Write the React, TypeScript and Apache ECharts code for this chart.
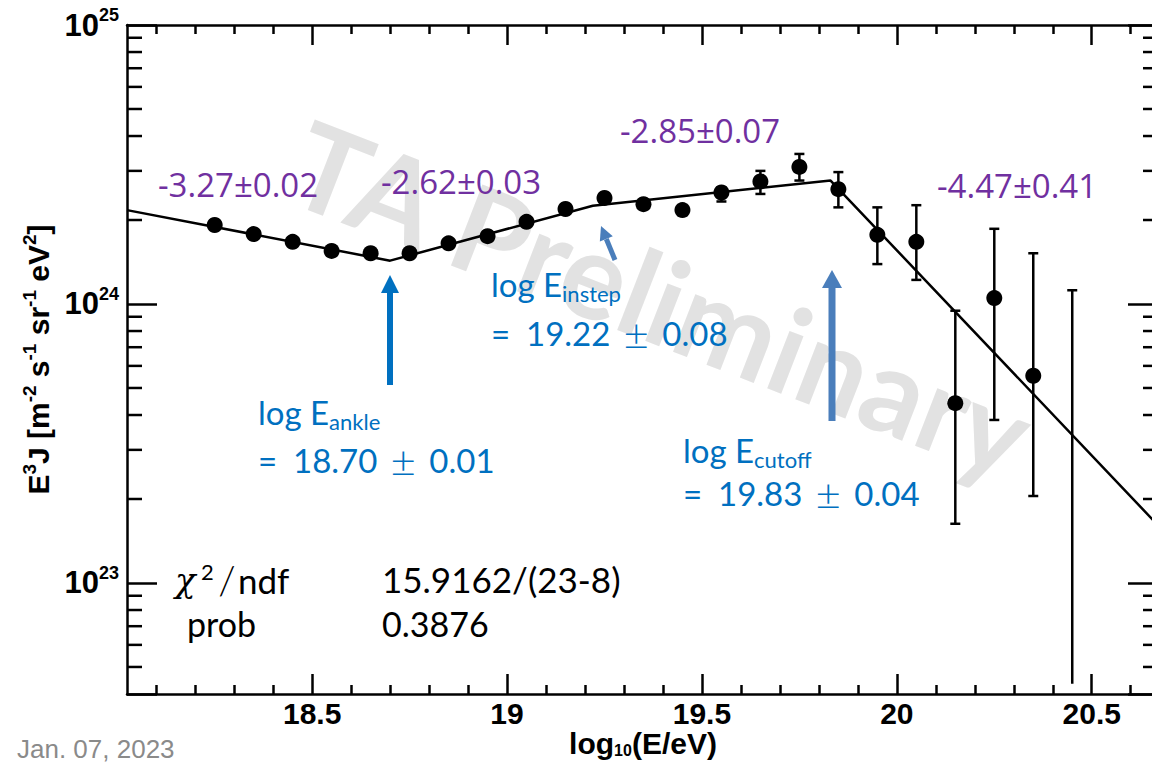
import React, { useEffect, useRef } from 'react';
import * as echarts from 'echarts';

const X_MIN = 18.025;
const X_MAX = 20.67;
const Y_MIN = 4e22;
const Y_MAX = 1e25;

// data bins (log10 E) and E^3 J values
const logE = [18.25, 18.35, 18.45, 18.55, 18.65, 18.75, 18.85, 18.95, 19.05, 19.15, 19.25, 19.35, 19.45, 19.55, 19.65, 19.75, 19.85, 19.95, 20.05, 20.15, 20.25, 20.35, 20.45];
const e3j = [1.92e24, 1.78e24, 1.67e24, 1.55e24, 1.52e24, 1.52e24, 1.65e24, 1.75e24, 1.97e24, 2.19e24, 2.40e24, 2.28e24, 2.17e24, 2.51e24, 2.75e24, 3.10e24, 2.58e24, 1.77e24, 1.67e24, 4.41e23, 1.05e24, 5.53e23, null];
const errLow = [1.89e24, 1.75e24, 1.64e24, 1.52e24, 1.49e24, 1.49e24, 1.62e24, 1.72e24, 1.93e24, 2.14e24, 2.34e24, 2.20e24, 2.08e24, 2.33e24, 2.48e24, 2.77e24, 2.22e24, 1.39e24, 1.22e24, 1.63e23, 3.84e23, 2.05e23, 4.35e22];
const errHigh = [1.95e24, 1.81e24, 1.70e24, 1.58e24, 1.55e24, 1.55e24, 1.68e24, 1.78e24, 2.01e24, 2.24e24, 2.46e24, 2.36e24, 2.26e24, 2.62e24, 3.00e24, 3.45e24, 2.97e24, 2.22e24, 2.26e24, 9.46e23, 1.86e24, 1.52e24, 1.12e24];
const lowerCap = [1, 1, 1, 1, 1, 1, 1, 1, 1, 1, 1, 1, 1, 1, 1, 1, 1, 1, 1, 1, 1, 1, 0];

// broken power-law fit vertices
const fitX = [18.025, 18.70, 19.22, 19.83, 20.67];
const fitY = [2.17e24, 1.43e24, 2.25e24, 2.77e24, 1.61e23];

// ticks
const xMajorTicks = [18.5, 19, 19.5, 20, 20.5];
const xMinorTicks = [18.1, 18.2, 18.3, 18.4, 18.6, 18.7, 18.8, 18.9, 19.1, 19.2, 19.3, 19.4, 19.6, 19.7, 19.8, 19.9, 20.1, 20.2, 20.3, 20.4, 20.6];
const yMinorTicks = [5e22, 6e22, 7e22, 8e22, 9e22, 2e23, 3e23, 4e23, 5e23, 6e23, 7e23, 8e23, 9e23, 2e24, 3e24, 4e24, 5e24, 6e24, 7e24, 8e24, 9e24];

// annotation texts
const slopeLabels = ['-3.27±0.02', '-2.62±0.03', '-2.85±0.07', '-4.47±0.41'];
const breakNames = ['ankle', 'instep', 'cutoff'];
const breakValues = ['18.70', '19.22', '19.83'];
const breakErrors = ['0.01', '0.08', '0.04'];
const fitStats = ['15.9162/(23-8)', '0.3876'];

const BLACK = '#000';
const PURPLE = '#7030A0';
const BLUE = '#0070C0';
const STEEL = '#4A7EBB';

function blueBlock(x: number, y1: number, y2: number, i: number) {
  return [
    {
      type: 'text', x, y: y1, z: 100,
      style: {
        text: `{m|log E}{u|${breakNames[i]}}`,
        verticalAlign: 'middle', align: 'left',
        rich: {
          m: { fontFamily: 'Lato', fontSize: 33, fill: BLUE, lineHeight: 40 },
          u: { fontFamily: 'Lato', fontSize: 22, fill: BLUE, lineHeight: 17, verticalAlign: 'bottom' },
        },
      },
    },
    {
      type: 'text', x, y: y2, z: 100,
      style: {
        text: `{e|=}{n|${breakValues[i]}}{p|±}{n|${breakErrors[i]}}`,
        verticalAlign: 'middle', align: 'left',
        rich: {
          e: { fontFamily: 'Lato', fontSize: 33, fill: BLUE, lineHeight: 44, width: 35 },
          n: { fontFamily: 'Lato', fontSize: 33, fill: BLUE, lineHeight: 44 },
          p: { fontFamily: 'Lato', fontSize: 44, fontWeight: 300, fill: BLUE, lineHeight: 44, width: 52, align: 'right' },
        },
      },
    },
  ];
}

function purple(x: number, y: number, i: number) {
  return {
    type: 'text', x, y, z: 100,
    style: { text: slopeLabels[i], fontFamily: 'Open Sans', fontSize: 33, fill: PURPLE, verticalAlign: 'middle', align: 'left' },
  };
}

function arrow(x1: number, y1: number, x2: number, y2: number, color: string, w: number, headLen: number, headHalf: number) {
  const dx = x2 - x1, dy = y2 - y1;
  const len = Math.sqrt(dx * dx + dy * dy);
  const ux = dx / len, uy = dy / len;
  const bx = x2 - ux * headLen, by = y2 - uy * headLen;
  const px = -uy * headHalf, py = ux * headHalf;
  return [
    { type: 'line', z: 100, shape: { x1, y1, x2: bx, y2: by }, style: { stroke: color, lineWidth: w } },
    { type: 'polygon', z: 100, shape: { points: [[x2, y2], [bx + px, by + py], [bx - px, by - py]] }, style: { fill: color } },
  ];
}

const axisLineStyle = { color: BLACK, width: 2.5 };
const tickStyle = { color: BLACK, width: 2.5 };

function buildOption() {
  const scatterData = logE.map((x, i) => (e3j[i] == null ? null : [x, e3j[i]])).filter((d) => d !== null);
  const errData = logE.map((x, i) => [x, errLow[i], errHigh[i], lowerCap[i]]);
  const fitData = fitX.map((x, i) => [x, fitY[i]]);

  return {
    animation: false,
    backgroundColor: '#fff',
    grid: { left: 127, top: 25, width: 1031, height: 669, containLabel: false, outerBoundsMode: 'none' },
    xAxis: [
      {
        type: 'value', min: X_MIN, max: X_MAX, position: 'bottom',
        axisLine: { show: true, onZero: false, lineStyle: axisLineStyle },
        axisTick: { show: true, inside: true, length: 20, customValues: xMajorTicks, lineStyle: tickStyle },
        axisLabel: {
          show: true, customValues: xMajorTicks, margin: 5, color: BLACK, fontSize: 30, fontWeight: 'bold',
          lineHeight: 28, fontFamily: 'Liberation Sans', formatter: (v: number) => String(v),
        },
        splitLine: { show: false },
      },
      {
        type: 'value', min: X_MIN, max: X_MAX, position: 'bottom',
        axisLine: { show: false },
        axisTick: { show: true, inside: true, length: 9, customValues: xMinorTicks, lineStyle: tickStyle },
        axisLabel: { show: false }, splitLine: { show: false },
      },
      {
        type: 'value', min: X_MIN, max: X_MAX, position: 'top',
        axisLine: { show: true, onZero: false, lineStyle: axisLineStyle },
        axisTick: { show: true, inside: true, length: 20, customValues: xMajorTicks, lineStyle: tickStyle },
        axisLabel: { show: false }, splitLine: { show: false },
      },
      {
        type: 'value', min: X_MIN, max: X_MAX, position: 'top',
        axisLine: { show: false },
        axisTick: { show: true, inside: true, length: 9, customValues: xMinorTicks, lineStyle: tickStyle },
        axisLabel: { show: false }, splitLine: { show: false },
      },
    ],
    yAxis: [
      {
        type: 'log', logBase: 10, min: Y_MIN, max: Y_MAX, position: 'left',
        axisLine: { show: true, onZero: false, lineStyle: axisLineStyle },
        axisTick: { show: true, inside: true, length: 30, lineStyle: tickStyle },
        minorTick: { show: false },
        splitLine: { show: false },
        axisLabel: {
          margin: 8,
          formatter: (v: number) => {
            const l = Math.log10(v);
            const e = Math.round(l);
            if (Math.abs(l - e) > 1e-6) return '';
            return `{b|10}{s|${e}}`;
          },
          rich: {
            b: { fontFamily: 'Liberation Sans', fontWeight: 'bold', fontSize: 31, color: BLACK, lineHeight: 38 },
            s: { fontFamily: 'Liberation Sans', fontWeight: 'bold', fontSize: 18, color: BLACK, lineHeight: 18, verticalAlign: 'top' },
          },
        },
        name: '{b|E}{s|3}{b|J [m}{s|-2}{b| s}{s|-1}{b| sr}{s|-1}{b| eV}{s|2}{b|]}',
        nameLocation: 'middle', nameRotate: 90, nameGap: 63,
        nameTextStyle: {
          rich: {
            b: { fontFamily: 'Liberation Sans', fontWeight: 'bold', fontSize: 30, color: BLACK, lineHeight: 38 },
            s: { fontFamily: 'Liberation Sans', fontWeight: 'bold', fontSize: 19, color: BLACK, lineHeight: 18, verticalAlign: 'top' },
          },
        },
      },
      {
        type: 'log', logBase: 10, min: Y_MIN, max: Y_MAX, position: 'right',
        axisLine: { show: true, onZero: false, lineStyle: axisLineStyle },
        axisTick: { show: true, inside: true, length: 30, lineStyle: tickStyle },
        axisLabel: { show: false }, splitLine: { show: false }, minorTick: { show: false },
      },
    ],
    series: [
      {
        type: 'custom', name: 'yMinor', coordinateSystem: 'cartesian2d', xAxisIndex: 0, yAxisIndex: 0,
        silent: true, clip: false, z: 3,
        data: yMinorTicks.map((v) => [X_MIN, v]),
        renderItem: (_p: any, api: any) => {
          const v = api.value(1);
          const l = api.coord([X_MIN, v]);
          const r = api.coord([X_MAX, v]);
          return {
            type: 'group',
            children: [
              { type: 'line', shape: { x1: l[0], y1: l[1], x2: l[0] + 15, y2: l[1] }, style: { stroke: BLACK, lineWidth: 2.5 } },
              { type: 'line', shape: { x1: r[0], y1: r[1], x2: r[0] - 15, y2: r[1] }, style: { stroke: BLACK, lineWidth: 2.5 } },
            ],
          };
        },
      },
      {
        type: 'custom', name: 'errors', coordinateSystem: 'cartesian2d', xAxisIndex: 0, yAxisIndex: 0,
        silent: true, z: 4,
        data: errData,
        renderItem: (_p: any, api: any) => {
          const x = api.value(0);
          const lo = api.coord([x, api.value(1)]);
          const hi = api.coord([x, api.value(2)]);
          const st = { stroke: BLACK, lineWidth: 2.5 };
          const children: any[] = [
            { type: 'line', shape: { x1: lo[0], y1: lo[1], x2: hi[0], y2: hi[1] }, style: st },
            { type: 'line', shape: { x1: hi[0] - 5, y1: hi[1], x2: hi[0] + 5, y2: hi[1] }, style: st },
          ];
          if (api.value(3)) {
            children.push({ type: 'line', shape: { x1: lo[0] - 5, y1: lo[1], x2: lo[0] + 5, y2: lo[1] }, style: st });
          }
          return { type: 'group', children };
        },
      },
      {
        type: 'line', name: 'fit', data: fitData, showSymbol: false, symbol: 'none', z: 5,
        lineStyle: { color: BLACK, width: 2.5 }, silent: true,
      },
      {
        type: 'scatter', name: 'TA', data: scatterData, symbol: 'circle', symbolSize: 16, z: 6,
        itemStyle: { color: BLACK, opacity: 1 }, silent: true,
      },
    ],
    graphic: [
      {
        type: 'text', x: 662, y: 298, rotation: -0.37, z: 0,
        style: {
          text: 'TA Preliminary', fontFamily: 'Lato', fontWeight: 'bold', fontSize: 120,
          fill: '#e2e2e2', align: 'center', verticalAlign: 'middle',
        },
      },
      {
        type: 'text', x: 643, y: 743, z: 100,
        style: {
          text: '{a|log}{s|10}{a|(E/eV)}', align: 'center', verticalAlign: 'middle',
          rich: {
            a: { fontFamily: 'Liberation Sans', fontWeight: 'bold', fontSize: 30, fill: BLACK, lineHeight: 30 },
            s: { fontFamily: 'Liberation Sans', fontWeight: 'bold', fontSize: 16, fill: BLACK, lineHeight: 12, verticalAlign: 'bottom' },
          },
        },
      },
      purple(158, 184, 0),
      purple(381, 181, 1),
      purple(620, 130, 2),
      purple(937, 185, 3),
      ...blueBlock(258, 412, 460, 0),
      ...blueBlock(491, 284, 333, 1),
      ...blueBlock(683, 450, 493, 2),
      ...arrow(390, 385, 390, 275, BLUE, 6, 18, 9),
      ...arrow(615, 260, 601, 226, STEEL, 5, 14, 7),
      ...arrow(832, 421, 832, 270, STEEL, 7, 18, 10),
      {
        type: 'text', x: 175, y: 580, z: 100,
        style: {
          text: '{c|χ}{s|2}{sl|/}{t|ndf}', verticalAlign: 'middle', align: 'left',
          rich: {
            c: { fontFamily: 'DejaVu Serif', fontStyle: 'italic', fontSize: 34, fill: BLACK, lineHeight: 40, width: 26 },
            s: { fontFamily: 'Lato', fontSize: 22, fill: BLACK, lineHeight: 22, verticalAlign: 'top', width: 15 },
            sl: { fontFamily: 'Lato', fontWeight: 300, fontSize: 40, fill: BLACK, lineHeight: 40, width: 22, align: 'center' },
            t: { fontFamily: 'Lato', fontSize: 35, fill: BLACK, lineHeight: 40 },
          },
        },
      },
      { type: 'text', x: 382, y: 579, z: 100, style: { text: fitStats[0], fontFamily: 'Lato', fontSize: 35, fill: BLACK, verticalAlign: 'middle' } },
      { type: 'text', x: 187, y: 623, z: 100, style: { text: 'prob', fontFamily: 'Lato', fontSize: 34, fill: BLACK, verticalAlign: 'middle' } },
      { type: 'text', x: 382, y: 623, z: 100, style: { text: fitStats[1], fontFamily: 'Lato', fontSize: 34, fill: BLACK, verticalAlign: 'middle' } },
      { type: 'text', x: 17, y: 762, z: 100, style: { text: 'Jan. 07, 2023', fontFamily: 'Liberation Sans', fontSize: 26, fill: '#8a8a8a', verticalAlign: 'bottom' } },
    ],
  };
}

export default function App() {
  const ref = useRef<HTMLDivElement>(null);
  useEffect(() => {
    if (!ref.current) return;
    const chart = echarts.init(ref.current, null, { renderer: 'svg' });
    chart.setOption(buildOption() as any);
    return () => chart.dispose();
  }, []);
  return <div ref={ref} style={{ position: 'absolute', left: 0, top: 0, width: 1152, height: 764, background: '#fff', overflow: 'hidden' }} />;
}
